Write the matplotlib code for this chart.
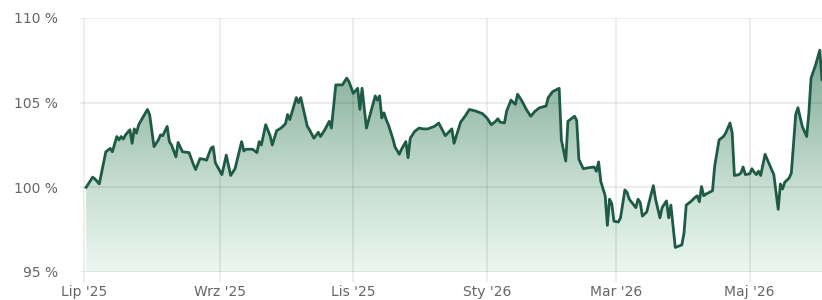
import numpy as np
import pandas as pd
import matplotlib
matplotlib.use("Agg")
import matplotlib.pyplot as plt
import matplotlib.dates as mdates

dates = [
    "2025-07-02", "2025-07-05", "2025-07-06", "2025-07-08", "2025-07-11", "2025-07-13", "2025-07-14",
    "2025-07-16", "2025-07-17", "2025-07-18", "2025-07-19", "2025-07-20", "2025-07-22", "2025-07-23",
    "2025-07-24", "2025-07-25", "2025-07-26", "2025-07-30", "2025-07-31",
    "2025-08-02", "2025-08-04", "2025-08-05", "2025-08-06", "2025-08-08", "2025-08-09", "2025-08-10",
    "2025-08-12", "2025-08-13", "2025-08-15", "2025-08-18", "2025-08-20", "2025-08-21", "2025-08-23",
    "2025-08-25", "2025-08-26", "2025-08-28", "2025-08-29", "2025-08-30",
    "2025-09-02", "2025-09-04", "2025-09-06", "2025-09-08", "2025-09-11", "2025-09-12", "2025-09-13",
    "2025-09-16", "2025-09-18", "2025-09-19", "2025-09-20", "2025-09-22", "2025-09-24", "2025-09-25",
    "2025-09-27", "2025-09-29",
    "2025-10-01", "2025-10-02", "2025-10-03", "2025-10-06", "2025-10-07", "2025-10-08", "2025-10-11",
    "2025-10-12", "2025-10-14", "2025-10-16", "2025-10-17", "2025-10-19", "2025-10-21", "2025-10-22",
    "2025-10-24", "2025-10-27", "2025-10-29", "2025-10-30",
    "2025-11-01", "2025-11-03", "2025-11-04", "2025-11-05", "2025-11-07", "2025-11-11", "2025-11-12",
    "2025-11-13", "2025-11-14", "2025-11-15", "2025-11-16", "2025-11-17", "2025-11-19", "2025-11-20",
    "2025-11-22", "2025-11-23", "2025-11-25", "2025-11-26", "2025-11-27", "2025-11-29",
    "2025-12-01", "2025-12-03", "2025-12-05", "2025-12-08", "2025-12-10", "2025-12-13", "2025-12-16",
    "2025-12-17", "2025-12-20", "2025-12-22", "2025-12-24", "2025-12-27", "2025-12-30",
    "2026-01-01", "2026-01-03", "2026-01-05", "2026-01-06", "2026-01-07", "2026-01-09", "2026-01-10",
    "2026-01-12", "2026-01-14", "2026-01-15", "2026-01-17", "2026-01-19", "2026-01-21", "2026-01-23",
    "2026-01-25", "2026-01-28", "2026-01-29", "2026-01-31",
    "2026-02-03", "2026-02-04", "2026-02-06", "2026-02-07", "2026-02-09", "2026-02-10", "2026-02-11",
    "2026-02-12", "2026-02-14", "2026-02-16", "2026-02-19", "2026-02-20", "2026-02-21", "2026-02-22",
    "2026-02-24", "2026-02-25", "2026-02-26", "2026-02-27", "2026-02-28",
    "2026-03-02", "2026-03-03", "2026-03-05", "2026-03-06", "2026-03-07", "2026-03-10", "2026-03-11",
    "2026-03-12", "2026-03-13", "2026-03-15", "2026-03-16", "2026-03-18", "2026-03-19", "2026-03-21",
    "2026-03-22", "2026-03-24", "2026-03-25", "2026-03-26", "2026-03-28", "2026-03-31",
    "2026-04-01", "2026-04-02", "2026-04-04", "2026-04-06", "2026-04-07", "2026-04-08", "2026-04-09",
    "2026-04-10", "2026-04-11", "2026-04-14", "2026-04-15", "2026-04-17", "2026-04-19", "2026-04-20",
    "2026-04-22", "2026-04-23", "2026-04-24", "2026-04-26", "2026-04-27", "2026-04-28", "2026-04-29",
    "2026-05-01", "2026-05-02", "2026-05-03", "2026-05-04", "2026-05-05", "2026-05-06", "2026-05-08",
    "2026-05-10", "2026-05-12", "2026-05-14", "2026-05-15", "2026-05-16", "2026-05-17", "2026-05-19",
    "2026-05-20", "2026-05-22", "2026-05-23", "2026-05-25", "2026-05-27", "2026-05-28", "2026-05-29",
    "2026-05-31", "2026-06-02", "2026-06-03",
]

values = [
    100.0, 100.6, 100.5, 100.2, 102.1, 102.3, 102.1,
    103.0, 102.8, 103.0, 102.85, 103.1, 103.4, 102.6,
    103.45, 103.2, 103.7, 104.6, 104.3,
    102.4, 102.8, 103.1, 103.05, 103.6, 102.7, 102.5,
    101.8, 102.65, 102.1, 102.05, 101.35, 101.05, 101.7,
    101.65, 101.6, 102.3, 102.4, 101.45,
    100.75, 101.9, 100.7, 101.1, 102.7, 102.15, 102.25,
    102.25, 102.05, 102.7, 102.5, 103.7, 103.05, 102.5,
    103.35, 103.5,
    103.75, 104.3, 104.0, 105.3, 105.0, 105.3, 103.6,
    103.4, 102.9, 103.25, 103.0, 103.4, 103.9, 103.5,
    106.05, 106.05, 106.45, 106.25,
    105.55, 105.85, 104.6, 105.85, 103.5, 105.4, 105.15,
    105.4, 104.1, 104.4, 104.0, 103.7, 102.9, 102.4,
    101.95, 102.25, 102.7, 101.75, 102.9, 103.3,
    103.5, 103.45, 103.45, 103.6, 103.8, 103.05, 103.45,
    102.6, 103.85, 104.2, 104.6, 104.5, 104.35,
    104.1, 103.7, 103.9, 104.05, 103.85, 103.8, 104.5,
    105.15, 104.9, 105.5, 105.1, 104.6, 104.2, 104.5,
    104.7, 104.8, 105.3, 105.65,
    105.85, 102.8, 101.55, 103.9, 104.1, 104.2, 103.95,
    101.65, 101.1, 101.15, 101.2, 100.95, 101.5, 100.35,
    99.5, 97.75, 99.3, 99.05, 98.0,
    97.95, 98.2, 99.85, 99.7, 99.3, 98.8, 99.3,
    99.1, 98.3, 98.55, 99.1, 100.1, 99.3, 98.2,
    98.8, 99.2, 98.2, 98.95, 96.45, 96.6,
    97.3, 98.95, 99.15, 99.4, 99.5, 99.15, 100.05,
    99.5, 99.6, 99.8, 101.25, 102.8, 103.0, 103.2,
    103.8, 103.2, 100.7, 100.75, 100.85, 101.2, 100.75,
    100.8, 101.1, 100.9, 100.75, 100.95, 100.7, 101.95,
    101.35, 100.75, 98.7, 100.2, 99.9, 100.3, 100.55,
    100.85, 104.3, 104.7, 103.6, 103.0, 104.4, 106.45,
    107.2, 108.1, 106.35,
]

tick_dates = ["2025-07-01", "2025-09-01", "2025-11-01", "2026-01-01", "2026-03-01", "2026-05-01"]
tick_labels = ["Lip '25", "Wrz '25", "Lis '25", "Sty '26", "Mar '26", "Maj '26"]
y_ticks = [95, 100, 105, 110]
y_labels = ["95 %", "100 %", "105 %", "110 %"]

x = mdates.date2num(pd.to_datetime(dates))
y = np.array(values)

fig = plt.figure(figsize=(8.22, 3.0), dpi=100)
ax = fig.add_axes([80 / 822, 28 / 300, 742 / 822, 254 / 300])

x_left = mdates.date2num(pd.Timestamp("2025-06-29 05:00"))
x_right = x[-1]
ax.set_xlim(x_left, x_right)
ax.set_ylim(95, 110)

# gradient fill clipped to the area under the line
line_color = "#1e5a45"
stops_f = [0.0, 0.16, 0.62, 1.0]
stops_c = np.array([[125, 168, 148], [147, 184, 166], [200, 223, 211], [236, 247, 241]]) / 255.0
ys = np.linspace(110, 95, 300)
frac = np.clip((y.max() - ys) / (y.max() - 95), 0, 1)
img = np.zeros((len(ys), 2, 3))
for ch in range(3):
    col = np.interp(frac, stops_f, stops_c[:, ch])
    img[:, :, ch] = col[:, None]
poly = ax.fill_between(x, y, 95, color="none", linewidth=0)
im = ax.imshow(img, extent=[x_left, x_right, 95, 110], aspect="auto", origin="upper",
               zorder=1, interpolation="bilinear")
path = poly.get_paths()[0]
im.set_clip_path(path, transform=ax.transData)

ax.plot(x, y, color=line_color, linewidth=2.0, zorder=3, solid_joinstyle="round")

ax.set_xticks(mdates.date2num(pd.to_datetime(tick_dates)))
ax.set_xticklabels(tick_labels)
ax.set_yticks(y_ticks)
ax.set_yticklabels(y_labels)

ax.set_axisbelow(False)
ax.grid(True, color="black", alpha=0.085, linewidth=1.2)
for sp in ax.spines.values():
    sp.set_visible(False)
ax.tick_params(axis="x", length=7.5, width=1.2, color="#ebebeb", pad=2,
               labelsize=10, labelcolor="#666666")
ax.tick_params(axis="y", length=0, pad=16, labelsize=10, labelcolor="#666666")

fig.savefig("out.png", dpi=100)
